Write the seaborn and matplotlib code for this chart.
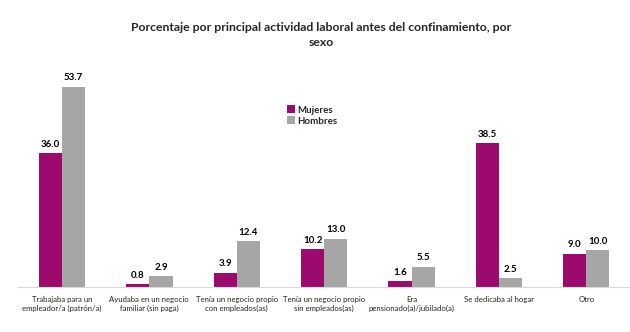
import matplotlib
matplotlib.use("Agg")
import matplotlib.pyplot as plt
import seaborn as sns
import pandas as pd

categories = [
    "Trabajaba para un\nempleador/a (patrón/a)",
    "Ayudaba en un negocio\nfamiliar (sin paga)",
    "Tenía un negocio propio\ncon empleados(as)",
    "Tenía un negocio propio\nsin empleados(as)",
    "Era\npensionado(a)/jubilado(a)",
    "Se dedicaba al hogar",
    "Otro",
]
mujeres = [36.0, 0.8, 3.9, 10.2, 1.6, 38.5, 9.0]
hombres = [53.7, 2.9, 12.4, 13.0, 5.5, 2.5, 10.0]
series = ["Mujeres", "Hombres"]
colors = ["#9B0A6C", "#A6A6A6"]

df = pd.DataFrame({
    "cat": categories * 2,
    "sexo": [series[0]] * len(categories) + [series[1]] * len(categories),
    "valor": mujeres + hombres,
})

sns.set_theme(style="white")
plt.rcParams["font.family"] = ["Lato", "DejaVu Sans"]

fig = plt.figure(figsize=(6.3, 3.32), dpi=100)
ax = fig.add_axes([0.029, 0.135, 0.971, 0.675])

sns.barplot(data=df, x="cat", y="valor", hue="sexo", palette=colors,
            width=0.53, gap=0, ax=ax, saturation=1, legend=True, linewidth=0)

for cont in ax.containers:
    ax.bar_label(cont, fmt="%.1f", padding=3, fontsize=7, fontweight="bold", color="#000000")

ax.set_ylim(0, 60)
ax.set_xlim(-0.5, 6.5)
ax.set_yticks([])
ax.set_xlabel("")
ax.set_ylabel("")
ax.tick_params(axis="x", length=0, labelsize=5.6, pad=6, colors="#222222")
for lbl in ax.get_xticklabels():
    lbl.set_linespacing(1.45)
for s in ["top", "right", "left"]:
    ax.spines[s].set_visible(False)
ax.spines["bottom"].set_color("#D9D9D9")
ax.spines["bottom"].set_linewidth(0.8)

leg = ax.legend(loc="upper left", bbox_to_anchor=(0.425, 0.85), frameon=False,
                fontsize=7, handlelength=0.8, handleheight=0.8,
                handletextpad=0.3, labelspacing=0.2)
for t in leg.get_texts():
    t.set_fontweight("bold")

fig.text(0.51, 0.895, "Porcentaje por principal actividad laboral antes del confinamiento, por\nsexo",
         ha="center", va="center", fontsize=8.8, fontweight="bold", linespacing=1.5)

fig.savefig("out.png", dpi=100)
